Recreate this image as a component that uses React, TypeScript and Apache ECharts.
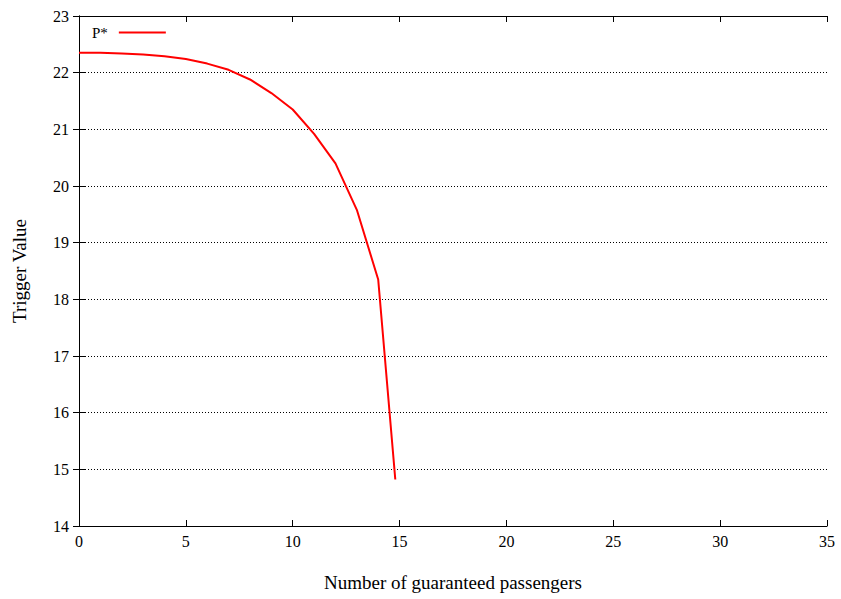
import React, { useEffect, useRef } from "react";
import * as echarts from "echarts";

const xValues = [0, 1, 2, 3, 4, 5, 6, 7, 8, 9, 10, 11, 12, 13, 14, 14.8];
const pStar = [22.35, 22.35, 22.34, 22.32, 22.29, 22.24, 22.16, 22.05, 21.88, 21.64, 21.35, 20.92, 20.4, 19.58, 18.35, 14.82];
const seriesName = "P*";
const xTitle = "Number of guaranteed passengers";
const yTitle = "Trigger Value";

export default function App() {
  const ref = useRef<HTMLDivElement>(null);
  useEffect(() => {
    if (!ref.current) return;
    const chart = echarts.init(ref.current, null, { renderer: "svg" });
    const font = "'Liberation Serif', 'Times New Roman', serif";
    const axisLine = { show: true, lineStyle: { color: "#000", width: 1 } };
    const tick = { show: true, inside: true, length: 6, lineStyle: { color: "#000" } };
    chart.setOption({
      animation: false,
      backgroundColor: "#fff",
      textStyle: { fontFamily: font },
      grid: { left: 79, right: 14, top: 16, bottom: 73, containLabel: false },
      legend: {
        show: true,
        left: 87,
        top: 20,
        align: "right",
        icon: "rect",
        itemWidth: 47,
        itemHeight: 2,
        itemGap: 10,
        textStyle: { fontFamily: font, fontSize: 15, color: "#000", padding: [0, 6, 0, 0] },
        data: [seriesName],
      },
      xAxis: [
        {
          type: "value",
          min: 0,
          max: 35,
          interval: 5,
          name: xTitle,
          nameLocation: "middle",
          nameGap: 47,
          nameTextStyle: { fontFamily: font, fontSize: 19, color: "#000" },
          axisLine,
          axisTick: tick,
          axisLabel: { margin: 7, fontFamily: font, fontSize: 16, color: "#000" },
          splitLine: { show: false },
        },
        {
          type: "value",
          position: "top",
          min: 0,
          max: 35,
          interval: 5,
          axisLine,
          axisTick: tick,
          axisLabel: { show: false },
          splitLine: { show: false },
        },
      ],
      yAxis: [
        {
          type: "value",
          min: 14,
          max: 23,
          interval: 1,
          name: yTitle,
          nameLocation: "middle",
          nameGap: 50,
          nameTextStyle: { fontFamily: font, fontSize: 19, color: "#000" },
          axisLine,
          axisTick: tick,
          axisLabel: { margin: 10, fontFamily: font, fontSize: 16, color: "#000" },
          splitLine: { show: true, lineStyle: { color: "#000", type: [1, 2], width: 1 } },
        },
        {
          type: "value",
          position: "right",
          min: 14,
          max: 23,
          interval: 1,
          axisLine,
          axisTick: tick,
          axisLabel: { show: false },
          splitLine: { show: false },
        },
      ],
      series: [
        {
          name: seriesName,
          type: "line",
          xAxisIndex: 0,
          yAxisIndex: 0,
          data: xValues.map((x, i) => [x, pStar[i]]),
          symbol: "none",
          lineStyle: { color: "#ff0000", width: 2 },
          itemStyle: { color: "#ff0000" },
        },
      ],
    });
    return () => chart.dispose();
  }, []);
  return (
    <div
      ref={ref}
      style={{ position: "absolute", left: 0, top: 0, width: 841, height: 599 }}
    />
  );
}
